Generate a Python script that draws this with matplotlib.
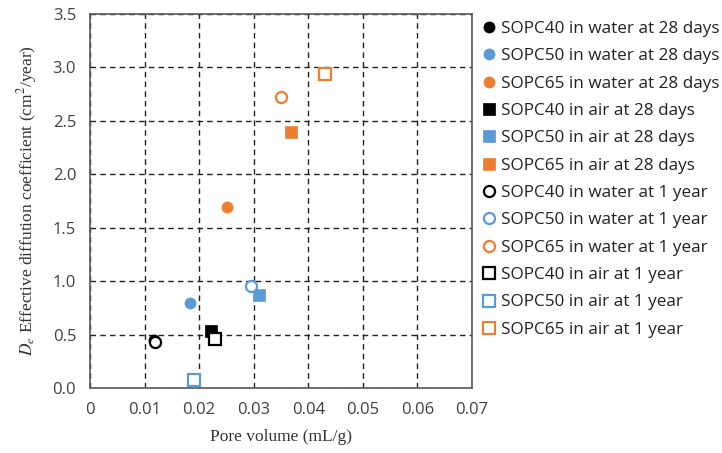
import matplotlib
matplotlib.use("Agg")
import matplotlib.pyplot as plt

plt.rcParams['mathtext.fontset'] = 'stix'

labels = [
    "SOPC40 in water at 28 days", "SOPC50 in water at 28 days", "SOPC65 in water at 28 days",
    "SOPC40 in air at 28 days", "SOPC50 in air at 28 days", "SOPC65 in air at 28 days",
    "SOPC40 in water at 1 year", "SOPC50 in water at 1 year", "SOPC65 in water at 1 year",
    "SOPC40 in air at 1 year", "SOPC50 in air at 1 year", "SOPC65 in air at 1 year",
]
pore_volume = [0.0118, 0.0183, 0.0251, 0.0222, 0.0310, 0.0369,
               0.0119, 0.0295, 0.0350, 0.0229, 0.0191, 0.0430]
diffusion = [0.45, 0.80, 1.69, 0.53, 0.87, 2.40,
             0.43, 0.95, 2.725, 0.455, 0.075, 2.94]

colors = ["black", "#5B9BD5", "#ED7D31"] * 4
markers = ["o"] * 3 + ["s"] * 3 + ["o"] * 3 + ["s"] * 3
filled = [True] * 6 + [False] * 6

fig = plt.figure(figsize=(7.22, 4.53), dpi=100)
ax = fig.add_axes([0.1247, 0.1435, 0.529, 0.8255])

for x, y, c, m, f, lab in zip(pore_volume, diffusion, colors, markers, filled, labels):
    ax.plot([x], [y], linestyle='none', marker=m, markersize=8,
            markerfacecolor=c if f else 'white', markeredgecolor=c,
            markeredgewidth=1.6 if not f else 0.5, label=lab, zorder=3)

ax.set_xlim(0, 0.07)
ax.set_ylim(0, 3.5)
ax.set_xticks([0, 0.01, 0.02, 0.03, 0.04, 0.05, 0.06, 0.07])
ax.set_xticklabels(["0", "0.01", "0.02", "0.03", "0.04", "0.05", "0.06", "0.07"])
ax.set_yticks([0, 0.5, 1.0, 1.5, 2.0, 2.5, 3.0, 3.5])
ax.set_yticklabels(["0.0", "0.5", "1.0", "1.5", "2.0", "2.5", "3.0", "3.5"])
ax.grid(True, linestyle=(0, (4, 3)), color='#222222', linewidth=1.0, zorder=0)
ax.set_axisbelow(True)
ax.tick_params(length=0, labelsize=12, colors='#404040', pad=10)
for lbl in ax.get_xticklabels() + ax.get_yticklabels():
    lbl.set_fontfamily('Open Sans')
for s in ax.spines.values():
    s.set_color('#595959')
    s.set_linewidth(1.2)

ax.set_xlabel("Pore volume (mL/g)", family='Liberation Serif', fontsize=12.5, color='#333333', labelpad=8)
ax.set_ylabel(r"$D_e$ Effective diffution coefficient (cm$^2$/year)", family='Liberation Serif',
              fontsize=12.5, color='#333333', labelpad=10)

leg = ax.legend(loc='upper left', bbox_to_anchor=(1.01, 1.0), frameon=False,
                prop={'family': 'Open Sans', 'size': 12.3}, handlelength=0.8,
                handletextpad=0.3, labelspacing=0.665, borderaxespad=0.0)
for t in leg.get_texts():
    t.set_color('#222222')

fig.savefig("out.png", dpi=100)
